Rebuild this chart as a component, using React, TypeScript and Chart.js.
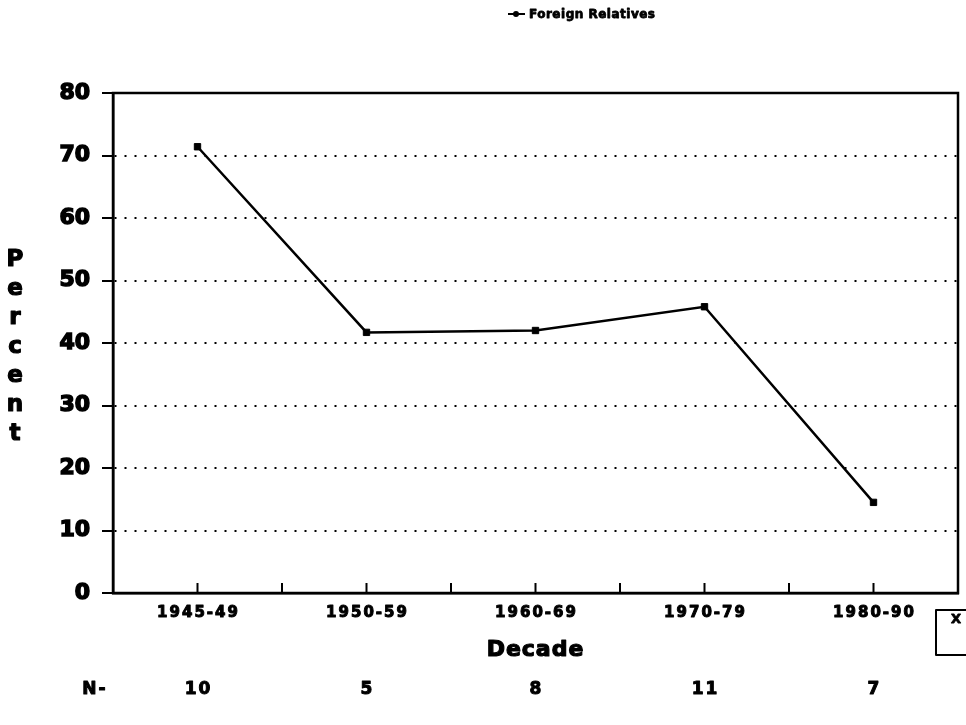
import React, { useEffect, useRef } from "react";
import { Chart, registerables } from "chart.js";

Chart.register(...registerables);

const decades = ["1945-49", "1950-59", "1960-69", "1970-79", "1980-90"];
const foreignRelatives = [71.4, 41.7, 42.0, 45.8, 14.5];
const nCounts = ["10", "5", "8", "11", "7"];
const seriesLabel = "Foreign Relatives";
const yTitle = "Percent";
const xTitle = "Decade";

const FONT = "'DejaVu Sans', 'Liberation Sans', sans-serif";

function boldText(ctx: CanvasRenderingContext2D, t: string, x: number, y: number, sw: number) {
  ctx.fillText(t, x, y);
  if (sw > 0) {
    ctx.lineWidth = sw;
    ctx.lineJoin = "round";
    ctx.strokeText(t, x, y);
  }
}

const decorPlugin = {
  id: "decor",
  afterDraw(chart: any) {
    const ctx = chart.ctx as CanvasRenderingContext2D;
    const { left, right, top, bottom } = chart.chartArea;
    const xs = chart.scales.x;
    ctx.save();
    // frame
    ctx.strokeStyle = "#000";
    ctx.lineWidth = 2.5;
    ctx.setLineDash([]);
    ctx.strokeRect(left, top, right - left, bottom - top);
    // x ticks (inward) at centers and between categories
    ctx.lineWidth = 2;
    ctx.beginPath();
    for (let i = 0; i < decades.length; i++) {
      const xc = xs.getPixelForValue(i);
      ctx.moveTo(xc, bottom);
      ctx.lineTo(xc, bottom - 10);
      if (i < decades.length - 1) {
        const xm = (xc + xs.getPixelForValue(i + 1)) / 2;
        ctx.moveTo(xm, bottom);
        ctx.lineTo(xm, bottom - 10);
      }
    }
    ctx.stroke();

    ctx.fillStyle = "#000";
    ctx.textAlign = "center";
    ctx.textBaseline = "middle";
    // x tick labels
    ctx.font = `bold 15px ${FONT}`;
    (ctx as any).letterSpacing = "2px";
    decades.forEach((d, i) => {
      boldText(ctx, d, xs.getPixelForValue(i) + 1, bottom + 20, 1);
    });
    // x title
    ctx.font = `bold 22px ${FONT}`;
    (ctx as any).letterSpacing = "1px";
    boldText(ctx, xTitle, (left + right) / 2, bottom + 57, 1.2);
    // N row
    ctx.font = `bold 17px ${FONT}`;
    (ctx as any).letterSpacing = "2px";
    boldText(ctx, "N-", 95, bottom + 97, 1);
    nCounts.forEach((n, i) => {
      boldText(ctx, n, xs.getPixelForValue(i) + 1, bottom + 97, 1);
    });
    // y title stacked letters
    ctx.font = `bold 23px ${FONT}`;
    (ctx as any).letterSpacing = "0px";
    const letters = yTitle.split("");
    const midY = (top + bottom) / 2 + 4;
    const step = 29;
    letters.forEach((ch, i) => {
      boldText(ctx, ch, 15, midY + (i - (letters.length - 1) / 2) * step, 1.2);
    });
    // legend
    const ly = 14;
    ctx.lineWidth = 2;
    ctx.beginPath();
    ctx.moveTo(508, ly);
    ctx.lineTo(525, ly);
    ctx.stroke();
    ctx.beginPath();
    ctx.arc(516, ly, 3, 0, Math.PI * 2);
    ctx.fill();
    ctx.font = `bold 12px ${FONT}`;
    (ctx as any).letterSpacing = "0.5px";
    ctx.textAlign = "left";
    boldText(ctx, seriesLabel, 529, ly + 1, 0.8);
    // cut-off box at bottom right
    ctx.lineWidth = 2;
    ctx.beginPath();
    ctx.moveTo(970, bottom + 17);
    ctx.lineTo(936, bottom + 17);
    ctx.lineTo(936, bottom + 62);
    ctx.lineTo(970, bottom + 62);
    ctx.stroke();
    ctx.font = `bold 13px ${FONT}`;
    (ctx as any).letterSpacing = "0px";
    ctx.textAlign = "center";
    boldText(ctx, "X", 956, bottom + 27, 0.8);
    ctx.restore();
  },
};

export default function App() {
  const ref = useRef<HTMLCanvasElement | null>(null);
  useEffect(() => {
    if (!ref.current) return;
    const chart = new Chart(ref.current, {
      type: "line",
      data: {
        labels: decades,
        datasets: [
          {
            label: seriesLabel,
            data: foreignRelatives,
            borderColor: "#000",
            backgroundColor: "#000",
            borderWidth: 2.5,
            pointStyle: "rect",
            pointRadius: 4.5,
            pointBorderWidth: 1,
            tension: 0,
          },
        ],
      },
      options: {
        animation: false,
        responsive: false,
        layout: { padding: { top: 93, right: 8, bottom: 0, left: 0 } },
        plugins: {
          legend: { display: false },
          tooltip: { enabled: false },
          title: { display: false },
        },
        scales: {
          x: {
            type: "category",
            offset: true,
            grid: { display: false },
            border: { display: true, color: "#000", width: 2.5 },
            ticks: { display: false },
            afterFit: (s: any) => {
              s.height = 132;
            },
          },
          y: {
            min: 0,
            max: 80,
            ticks: {
              stepSize: 10,
              color: "#000",
              padding: 12,
              font: { family: FONT, size: 22, weight: "bold" },
              textStrokeColor: "#000",
              textStrokeWidth: 1.5,
            },
            grid: {
              color: "#000",
              lineWidth: 2,
              drawTicks: true,
              tickLength: 11,
              tickColor: "#000",
              tickWidth: 2,
              tickBorderDash: [],
            },
            border: { display: true, color: "#000", width: 2.5, dash: [2, 8] },
            afterFit: (s: any) => {
              s.width = 113;
            },
          },
        },
      },
      plugins: [decorPlugin],
    });
    return () => chart.destroy();
  }, []);
  return (
    <div style={{ position: "absolute", left: 0, top: 0, width: 966, height: 725, background: "#fff" }}>
      <canvas ref={ref} width={966} height={725} />
    </div>
  );
}
